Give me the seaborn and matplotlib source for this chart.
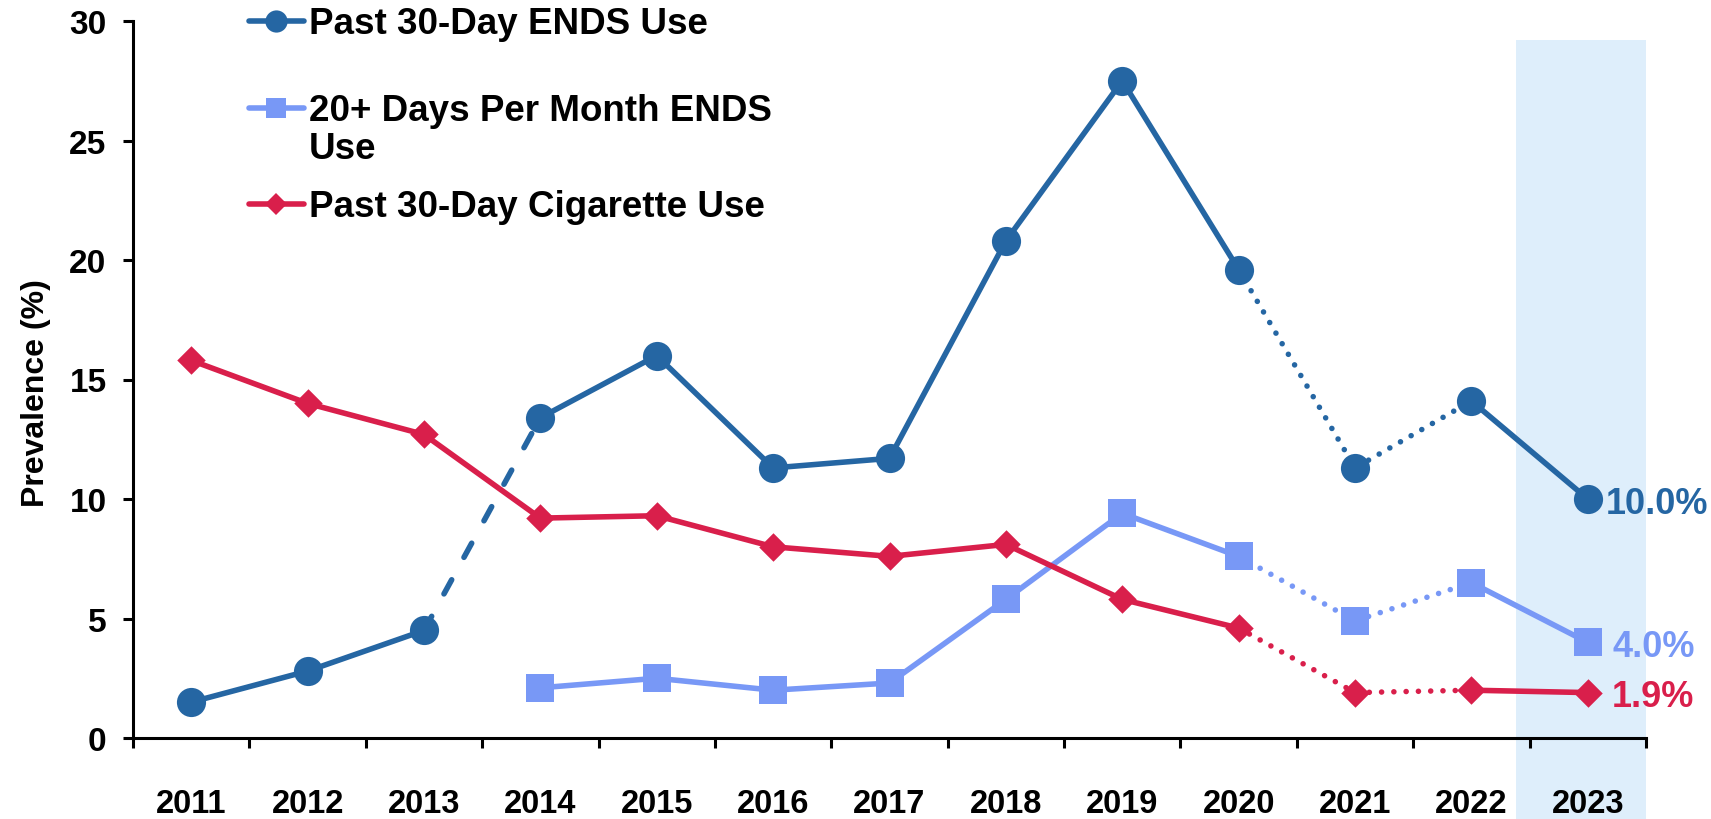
import numpy as np
import pandas as pd
import matplotlib
matplotlib.use("Agg")
import matplotlib.pyplot as plt
from matplotlib.lines import Line2D
from matplotlib.patches import Rectangle
import seaborn as sns

# ---- data -------------------------------------------------------------
years = ["2011", "2012", "2013", "2014", "2015", "2016", "2017",
         "2018", "2019", "2020", "2021", "2022", "2023"]
ends_30day = [1.5, 2.8, 4.5, 13.4, 16.0, 11.3, 11.7, 20.8, 27.5, 19.6, 11.3, 14.1, 10.0]
ends_20plus = [np.nan, np.nan, np.nan, 2.1, 2.5, 2.0, 2.3, 5.8, 9.4, 7.6, 4.9, 6.5, 4.0]
cig_30day = [15.8, 14.0, 12.7, 9.2, 9.3, 8.0, 7.6, 8.1, 5.8, 4.6, 1.9, 2.0, 1.9]
series_names = ["Past 30-Day ENDS Use",
                "20+ Days Per Month ENDS\nUse",
                "Past 30-Day Cigarette Use"]
y_label = "Prevalence (%)"

# ---- style ------------------------------------------------------------
sns.set_style("ticks")
plt.rcParams["font.family"] = ["Liberation Sans", "DejaVu Sans"]
plt.rcParams["font.weight"] = "bold"
plt.rcParams["axes.labelweight"] = "bold"
plt.rcParams["text.color"] = "black"
plt.rcParams["axes.labelcolor"] = "black"
plt.rcParams["xtick.color"] = "black"
plt.rcParams["ytick.color"] = "black"

C_ENDS = "#2566A3"
C_FREQ = "#7898F6"
C_CIG = "#D91F4B"
C_BAND = "#DEEEFB"

LW = 4.0
STYLES = {
    "solid": "-",
    "dashed": (0, (2.9, 4.6)),
    "dotted": (0, (0.01, 2.2)),
}

series = [
    dict(values=ends_30day, color=C_ENDS, marker="o", ms=21, legend_ms=16,
         label_dx=13,
         segments=[(0, 2, "solid"), (2, 3, "dashed"), (3, 9, "solid"),
                   (9, 11, "dotted"), (11, 12, "solid")]),
    dict(values=ends_20plus, color=C_FREQ, marker="s", ms=20, legend_ms=15,
         label_dx=18,
         segments=[(3, 9, "solid"), (9, 11, "dotted"), (11, 12, "solid")]),
    dict(values=cig_30day, color=C_CIG, marker="D", ms=14.5, legend_ms=11,
         label_dx=17,
         segments=[(0, 9, "solid"), (9, 11, "dotted"), (11, 12, "solid")]),
]

W, H = 1711, 820
fig = plt.figure(figsize=(W / 100, H / 100), dpi=100)
ax = fig.add_axes([133 / W, 1 - 739 / H, (1646 - 133) / W, (739 - 22) / H])

x = np.arange(len(years))

# highlighted latest year
ax.add_patch(Rectangle((11.38, -3.4), 12.5 - 11.38, 29.2 + 3.4,
                       facecolor=C_BAND, edgecolor="none", zorder=0,
                       clip_on=False))

for s in series:
    df = pd.DataFrame({"x": x, "y": s["values"]})
    for a, b, style in s["segments"]:
        seg = df.iloc[a:b + 1]
        sns.lineplot(data=seg, x="x", y="y", ax=ax, color=s["color"],
                     linewidth=LW, linestyle=STYLES[style],
                     dash_capstyle="round", sort=False, zorder=3,
                     legend=False)
    pts = df.dropna()
    sns.scatterplot(data=pts, x="x", y="y", ax=ax, color=s["color"],
                    marker=s["marker"], s=s["ms"] ** 2, linewidth=0,
                    zorder=4, legend=False)
    last = df.iloc[-1]
    ax.annotate(f"{last['y']:.1f}%", (last["x"], last["y"]),
                xytext=(s["label_dx"], 0), textcoords="offset points",
                ha="left", va="center_baseline", color=s["color"],
                fontsize=26, fontweight="bold", annotation_clip=False)

# ---- axes -------------------------------------------------------------
ax.set_xlim(-0.5, 12.5)
ax.set_ylim(0, 30)
ax.set_xticks(np.arange(-0.5, 13, 1))
ax.set_xticklabels([])
ax.set_xticks(x, minor=True)
ax.set_xticklabels(years, minor=True)
ax.set_yticks(range(0, 31, 5))
ax.tick_params(axis="x", which="major", length=7, width=2.2, direction="out")
ax.tick_params(axis="x", which="minor", length=0, pad=36, labelsize=23.5)
ax.tick_params(axis="y", length=7, width=2.2, direction="out", pad=12,
               labelsize=24)
for lab in ax.get_xticklabels(minor=True) + ax.get_yticklabels():
    lab.set_fontweight("bold")
for side in ("top", "right"):
    ax.spines[side].set_visible(False)
for side in ("left", "bottom"):
    ax.spines[side].set_linewidth(2.2)
    ax.spines[side].set_color("black")
ax.set_xlabel("")
ax.set_ylabel(y_label, fontsize=23, fontweight="bold")
ax.yaxis.set_label_coords(-0.054, 0.4826)

# ---- legend -----------------------------------------------------------
legend_rows = [22, 109, 205]
for s, name, yrow in zip(series, series_names, legend_rows):
    yf = 1 - yrow / H
    handle = Line2D([249 / W, 276 / W, 304 / W], [yf, yf, yf],
                    transform=fig.transFigure, color=s["color"], linewidth=LW,
                    marker=s["marker"], markersize=s["legend_ms"],
                    markevery=[1], markeredgewidth=0)
    fig.add_artist(handle)
    for i, line in enumerate(name.split("\n")):
        fig.text(309 / W, 1 - (yrow + 12 + 38 * i) / H, line,
                 ha="left", va="baseline", fontsize=26.5, fontweight="bold",
                 color="black")

fig.savefig("out.png", dpi=100)
